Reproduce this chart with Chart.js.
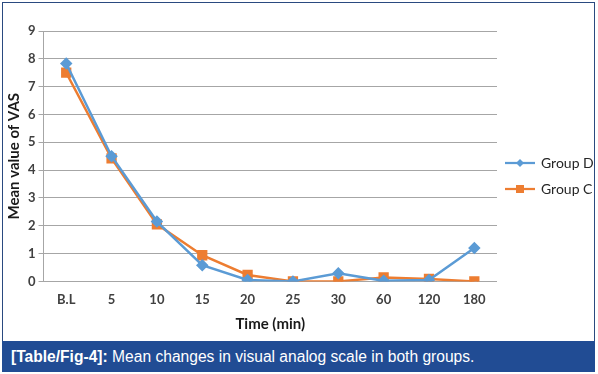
<!DOCTYPE html>
<html>
<head>
<meta charset="utf-8">
<script src="https://cdn.jsdelivr.net/npm/chart.js@4"></script>
<style>
html,body{margin:0;padding:0;background:#fff;width:598px;height:374px;overflow:hidden;}
#frame{position:absolute;left:2px;top:2px;width:593px;height:370px;border:1px solid #2a4a80;box-sizing:border-box;}
#wrap{position:absolute;left:0;top:0;width:598px;height:340px;}
#cap{position:absolute;left:2px;top:341px;width:593px;height:31px;background:#214c94;color:#fff;
font-family:"Liberation Sans",Arial,sans-serif;font-size:15.6px;line-height:31px;padding-left:9px;box-sizing:border-box;white-space:nowrap;}
#cap b{font-weight:bold;}
</style>
</head>
<body>
<div id="frame"></div>
<div id="wrap"><canvas id="c" width="598" height="340"></canvas></div>
<div id="cap"><b>[Table/Fig-4]:</b> Mean changes in visual analog scale in both groups.</div>
<script>
const categories = ["B.L","5","10","15","20","25","30","60","120","180"];
const groupD = [7.83, 4.5, 2.15, 0.58, 0.05, 0.0, 0.29, 0.02, 0.05, 1.2];
const groupC = [7.5, 4.42, 2.05, 0.94, 0.23, 0.0, 0.0, 0.14, 0.09, 0.0];
const seriesNames = ["Group D","Group C"];
const yTicks = [0,1,2,3,4,5,6,7,8,9];

const blue = "#5b9bd5", orange = "#ed7d31";
const tickFont = {family:"Lato, 'Open Sans', sans-serif", size:13, weight:"bold"};

const legendPlugin = {
  id:"sideLegend",
  afterDraw(chart){
    const ctx = chart.ctx, a = chart.chartArea;
    const x0 = a.right + 8;
    const rows = [a.top + 132, a.top + 158];
    chart.data.datasets.forEach((ds,i)=>{
      const y = rows[i];
      ctx.save();
      ctx.strokeStyle = ds.borderColor; ctx.lineWidth = 2.25;
      ctx.beginPath(); ctx.moveTo(x0, y); ctx.lineTo(x0+30, y); ctx.stroke();
      ctx.fillStyle = ds.backgroundColor;
      const cx = x0+15;
      if (ds.pointStyle === "rectRot"){
        ctx.beginPath(); ctx.moveTo(cx, y-4); ctx.lineTo(cx+4, y); ctx.lineTo(cx, y+4); ctx.lineTo(cx-4, y); ctx.closePath(); ctx.fill();
      } else {
        ctx.fillRect(cx-4, y-4, 8, 8);
      }
      ctx.fillStyle = "#262626";
      ctx.font = "14px Lato, 'Open Sans', sans-serif";
      ctx.textBaseline = "middle";
      ctx.fillText(ds.label, x0+36, y);
      ctx.restore();
    });
  }
};

new Chart(document.getElementById("c"), {
  type:"line",
  data:{
    labels:categories,
    datasets:[
      {label:seriesNames[0], data:groupD, borderColor:blue, backgroundColor:blue, borderWidth:2.5,
       pointStyle:"rectRot", pointRadius:4.5, pointHoverRadius:4.5, tension:0},
      {label:seriesNames[1], data:groupC, borderColor:orange, backgroundColor:orange, borderWidth:2.5,
       pointStyle:"rect", pointRadius:5.5, pointHoverRadius:5.5, tension:0}
    ]
  },
  options:{
    responsive:false, animation:false,
    layout:{padding:{left:5, right:101, top:31, bottom:7}},
    plugins:{legend:{display:false}, tooltip:{enabled:false}},
    scales:{
      x:{
        offset:true,
        grid:{display:false},
        border:{display:false},
        ticks:{color:"#404040", font:tickFont, padding:3, maxRotation:0},
        title:{display:true, text:"Time (min)", color:"#1a1a1a",
               font:{family:"Lato, 'Open Sans', sans-serif", size:15, weight:"bold"}, padding:{top:4,bottom:0}}
      },
      y:{
        min:0, max:9,
        afterBuildTicks(axis){ axis.ticks = yTicks.map(v=>({value:v})); },
        grid:{color:"#a6a6a6", lineWidth:1, tickLength:5},
        border:{display:true, color:"#a6a6a6"},
        ticks:{color:"#404040", font:tickFont, padding:3},
        title:{display:true, text:"Mean value of VAS", color:"#1a1a1a",
               font:{family:"Lato, 'Open Sans', sans-serif", size:15, weight:"bold"}, padding:{top:0,bottom:2}}
      }
    }
  },
  plugins:[legendPlugin]
});
</script>
</body>
</html>
